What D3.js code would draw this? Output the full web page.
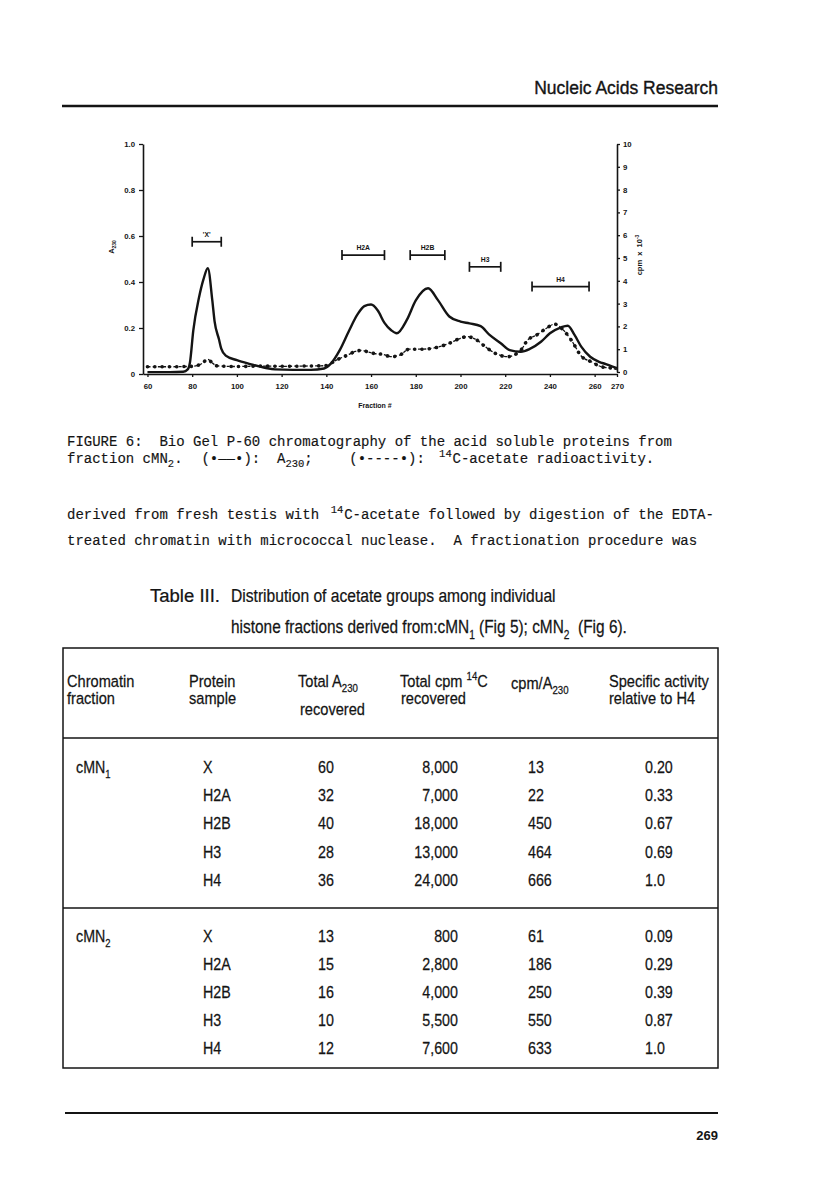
<!DOCTYPE html>
<html><head><meta charset="utf-8">
<script src="https://cdn.jsdelivr.net/npm/d3@7"></script>
<style>body{margin:0;background:#fff}svg{display:block}</style>
</head><body>
<svg id="page" width="816" height="1203"></svg>
<script>
// ---------------- data ----------------
const solidFrac = [60,70,76,78,79,80.5,83,85,87,89,90,92,93,95,100,106,113,117,125,133,139,142,146,150,154,157,160,163,166,169,171.5,176,180,185.5,190,195,200,204,209,213,218,222,227,231,236,240,245,248,251,254,258,262,265,268,270];
const solidA230 = [0.008,0.008,0.01,0.02,0.05,0.19,0.33,0.41,0.46,0.32,0.23,0.15,0.11,0.08,0.06,0.043,0.026,0.02,0.018,0.018,0.024,0.045,0.104,0.185,0.26,0.295,0.302,0.276,0.222,0.19,0.177,0.235,0.32,0.373,0.32,0.25,0.228,0.22,0.208,0.17,0.134,0.104,0.097,0.109,0.14,0.177,0.203,0.21,0.17,0.119,0.075,0.053,0.043,0.032,0.025];
const dashFrac = [60,70,80,84,87,89,91,100,110,120,130,140,144,149,153,156,158,162,165,169,173,177,182,186,191,195,200,203,207,212,216,221,227,230,234,238.5,242,246,250,254,258.5,263,268,270];
const dashCpm = [0.23,0.23,0.25,0.35,0.55,0.4,0.27,0.24,0.26,0.25,0.26,0.28,0.5,0.72,0.9,0.95,0.9,0.8,0.78,0.67,0.75,1.0,1.0,1.02,1.12,1.26,1.48,1.55,1.42,1.04,0.8,0.67,0.96,1.4,1.62,1.92,2.1,1.84,1.33,0.7,0.45,0.23,0.16,0.1];
const xTicks = [60,80,100,120,140,160,180,200,220,240,260,270];
const leftTicks = [0,0.2,0.4,0.6,0.8,1.0];
const rightTicks = [0,1,2,3,4,5,6,7,8,9,10];
const bracketLabels = ["'X'","H2A","H2B","H3","H4"];
const bracketStart = [80,147,177.5,204,232];
const bracketEnd = [93,166,193,218,257.5];
const bracketLevel = [0.575,0.517,0.517,0.466,0.38];

const proteins = ["X","H2A","H2B","H3","H4"];
const groupBase = ["cMN","cMN"];
const groupSub = ["1","2"];
const totalA230 = [[60,32,40,28,36],[13,15,16,10,12]];
const totalCpm = [[8000,7000,18000,13000,24000],[800,2800,4000,5500,7600]];
const cpmPerA = [[13,22,450,464,666],[61,186,250,550,633]];
const specAct = [["0.20","0.33","0.67","0.69","1.0"],["0.09","0.29","0.39","0.87","1.0"]];

// ---------------- helpers ----------------
const SANS = "'Liberation Sans', Arial, Helvetica, sans-serif";
const MONO = "'Liberation Mono', 'Courier New', monospace";
const INK = "#141414";
const svg = d3.select('#page');
svg.append('rect').attr('width',816).attr('height',1203).attr('fill','#fff');

function richText(parent, x, y, parts, o) {
  const size = o.size;
  const g = parent.append('g').attr('transform', `translate(${x},${y})` + (o.rotate ? ` rotate(${o.rotate})` : ''));
  const t = g.append('text')
    .attr('font-family', o.family || SANS).attr('font-size', size)
    .attr('font-weight', o.weight || 'normal').attr('fill', o.fill || INK)
    .attr('text-anchor', o.anchor || 'start').style('white-space','pre');
  if (o.stroke) t.attr('stroke', INK).attr('stroke-width', o.stroke);
  let shift = 0;
  parts.forEach(p => {
    const s = typeof p === 'string' ? {t:p} : p;
    const target = s.sub ? size*0.3 : s.sup ? -size*0.42 : 0;
    const ts = t.append('tspan').attr('dy', target - shift).text(s.t);
    if (s.sub || s.sup) ts.attr('font-size', size*(o.scriptScale || 0.66));
    shift = target;
  });
  let sx = o.sx || 1;
  if (o.width) sx = o.width / t.node().getComputedTextLength();
  t.attr('transform', `scale(${sx},1)`);
  return t;
}

// ---------------- page header ----------------
richText(svg, 718, 94, ['Nucleic Acids Research'], {size:17.5, anchor:'end', stroke:0.35});
svg.append('line').attr('x1',62).attr('x2',718).attr('y1',106).attr('y2',106).attr('stroke',INK).attr('stroke-width',2.6);

// ---------------- chart ----------------
const x = d3.scaleLinear().domain([58,270]).range([143,617]);
const yL = d3.scaleLinear().domain([0,1]).range([374,144]);
const yR = d3.scaleLinear().domain([0,10]).range([372,144]);
const chart = svg.append('g');

function styleAxis(g) {
  g.select('.domain').attr('stroke',INK).attr('stroke-width',1.6);
  g.selectAll('.tick line').attr('stroke',INK).attr('stroke-width',1.3);
  g.selectAll('.tick text').attr('font-family',SANS).attr('font-size',7.8).attr('font-weight','bold').attr('fill',INK);
}
chart.append('g').attr('transform','translate(143,0)')
  .call(d3.axisLeft(yL).tickValues(leftTicks).tickFormat(d => d === 0 ? '0' : d3.format('.1f')(d)).tickSize(4).tickSizeOuter(0).tickPadding(4))
  .call(styleAxis);
chart.append('g').attr('transform','translate(0,374)')
  .call(d3.axisBottom(x).tickValues(xTicks).tickSize(3).tickSizeOuter(0).tickPadding(6))
  .call(styleAxis);
chart.append('g').attr('transform','translate(617,0)')
  .call(d3.axisRight(yR).tickValues(rightTicks).tickSize(3).tickSizeOuter(0).tickPadding(3))
  .call(styleAxis);

richText(chart, 375, 408, ['Fraction #'], {size:7, weight:'bold', anchor:'middle'});
richText(chart, 114, 247, ['A', {t:'230', sub:true}], {size:7.5, weight:'bold', anchor:'middle', rotate:-90});
richText(chart, 642, 255, ['cpm  x  10', {t:'-3', sup:true}], {size:7.5, weight:'bold', anchor:'middle', rotate:-90});

// brackets
bracketLabels.forEach((lab, i) => {
  const x1 = x(bracketStart[i]), x2 = x(bracketEnd[i]), yy = yL(bracketLevel[i]);
  const b = chart.append('g').attr('stroke',INK).attr('stroke-width',1.7);
  b.append('line').attr('x1',x1).attr('x2',x2).attr('y1',yy).attr('y2',yy);
  b.append('line').attr('x1',x1).attr('x2',x1).attr('y1',yy-5).attr('y2',yy+5);
  b.append('line').attr('x1',x2).attr('x2',x2).attr('y1',yy-5).attr('y2',yy+5);
  richText(chart, (x1+x2)/2, yy-5, [lab], {size:6.8, weight:'bold', anchor:'middle'});
});

// curves
const solidData = solidFrac.map((f,i) => ({f, v: solidA230[i]}));
const dashData = dashFrac.map((f,i) => ({f, v: dashCpm[i]}));
const lineL = d3.line().x(d => x(d.f)).y(d => yL(d.v)).curve(d3.curveMonotoneX);
const lineR = d3.line().x(d => x(d.f)).y(d => yR(d.v)).curve(d3.curveMonotoneX);

chart.append('path').attr('d', lineR(dashData)).attr('fill','none').attr('stroke',INK)
  .attr('stroke-width',1.3).attr('stroke-dasharray','3,2.2');
chart.append('path').attr('d', lineR(dashData)).attr('fill','none').attr('stroke',INK)
  .attr('stroke-width',3.6).attr('stroke-linecap','round').attr('stroke-dasharray','0.1,7.2');
chart.append('path').attr('d', lineL(solidData)).attr('fill','none').attr('stroke',INK)
  .attr('stroke-width',2.4).attr('stroke-linejoin','round');

// ---------------- caption & paragraph (typewriter) ----------------
const col = c => 67 + c*8.4;
const mono = {size:14, family:MONO, stroke:0.15, scriptScale:0.75};
richText(svg, col(0), 446, ['FIGURE 6:  Bio Gel P-60 chromatography of the acid soluble proteins from'], mono);
richText(svg, col(0), 463, ['fraction cMN', {t:'2', sub:true}, '.'], mono);
richText(svg, col(16), 463, ['(\u2022\u2014\u2014\u2022):'], mono);
richText(svg, col(25), 463, ['A', {t:'230', sub:true}, ';'], mono);
richText(svg, col(33.6), 463, ['(\u2022----\u2022):'], mono);
richText(svg, col(44.3), 463, [{t:'14', sup:true}], mono);
richText(svg, col(45.9), 463, ['C-acetate radioactivity.'], mono);

richText(svg, col(0), 519, ['derived from fresh testis with'], mono);
richText(svg, col(31.4), 519, [{t:'14', sup:true}], mono);
richText(svg, col(33), 519, ['C-acetate followed by digestion of the EDTA-'], mono);
richText(svg, col(0), 545, ['treated chromatin with micrococcal nuclease.  A fractionation procedure was'], mono);

// ---------------- table ----------------
const T = {size:17, sx:0.84, stroke:0.25};
richText(svg, 150, 602, ['Table III.'], {size:19, width:70, stroke:0.25});
richText(svg, 231, 602, ['Distribution of acetate groups among individual'], {size:19, width:325, stroke:0.25});
richText(svg, 231, 633, ['histone fractions derived from:cMN', {t:'1', sub:true}, ' (Fig 5); cMN', {t:'2', sub:true}, '  (Fig 6).'], {size:19, width:396, stroke:0.25});

const tb = svg.append('g').attr('stroke',INK).attr('stroke-width',1.5).attr('fill','none');
tb.append('rect').attr('x',63).attr('y',648).attr('width',655).attr('height',420);
tb.append('line').attr('x1',63).attr('x2',718).attr('y1',738).attr('y2',738);
tb.append('line').attr('x1',63).attr('x2',718).attr('y1',908).attr('y2',908);

const H = {size:17, sx:0.86, stroke:0.25};
richText(svg, 67, 687, ['Chromatin'], H);
richText(svg, 67, 704, ['fraction'], H);
richText(svg, 189, 687, ['Protein'], H);
richText(svg, 189, 704, ['sample'], H);
richText(svg, 298, 687, ['Total A', {t:'230', sub:true}], H);
richText(svg, 300, 715, ['recovered'], H);
richText(svg, 400, 687, ['Total cpm ', {t:'14', sup:true}, 'C'], H);
richText(svg, 401, 704, ['recovered'], H);
richText(svg, 511, 689, ['cpm/A', {t:'230', sub:true}], H);
richText(svg, 609, 687, ['Specific activity'], H);
richText(svg, 609, 704, ['relative to H4'], H);

const groupTop = [767, 936];
const groupStep = [28.2, 28];
groupBase.forEach((gname, gi) => {
  const base = y0 => y0 + 6;
  richText(svg, 76, base(groupTop[gi]), [gname, {t:groupSub[gi], sub:true}], T);
  proteins.forEach((p, i) => {
    const yy = base(groupTop[gi] + i*groupStep[gi]);
    richText(svg, 203, yy, [p], T);
    richText(svg, 318, yy, [String(totalA230[gi][i])], T);
    richText(svg, 458, yy, [d3.format(',')(totalCpm[gi][i])], Object.assign({anchor:'end'}, T));
    richText(svg, 528, yy, [String(cpmPerA[gi][i])], T);
    richText(svg, 645, yy, [specAct[gi][i]], T);
  });
});

// ---------------- footer ----------------
svg.append('line').attr('x1',65).attr('x2',718).attr('y1',1113).attr('y2',1113).attr('stroke',INK).attr('stroke-width',2.2);
richText(svg, 718, 1140, ['269'], {size:13, weight:'bold', anchor:'end'});
</script>
</body></html>
